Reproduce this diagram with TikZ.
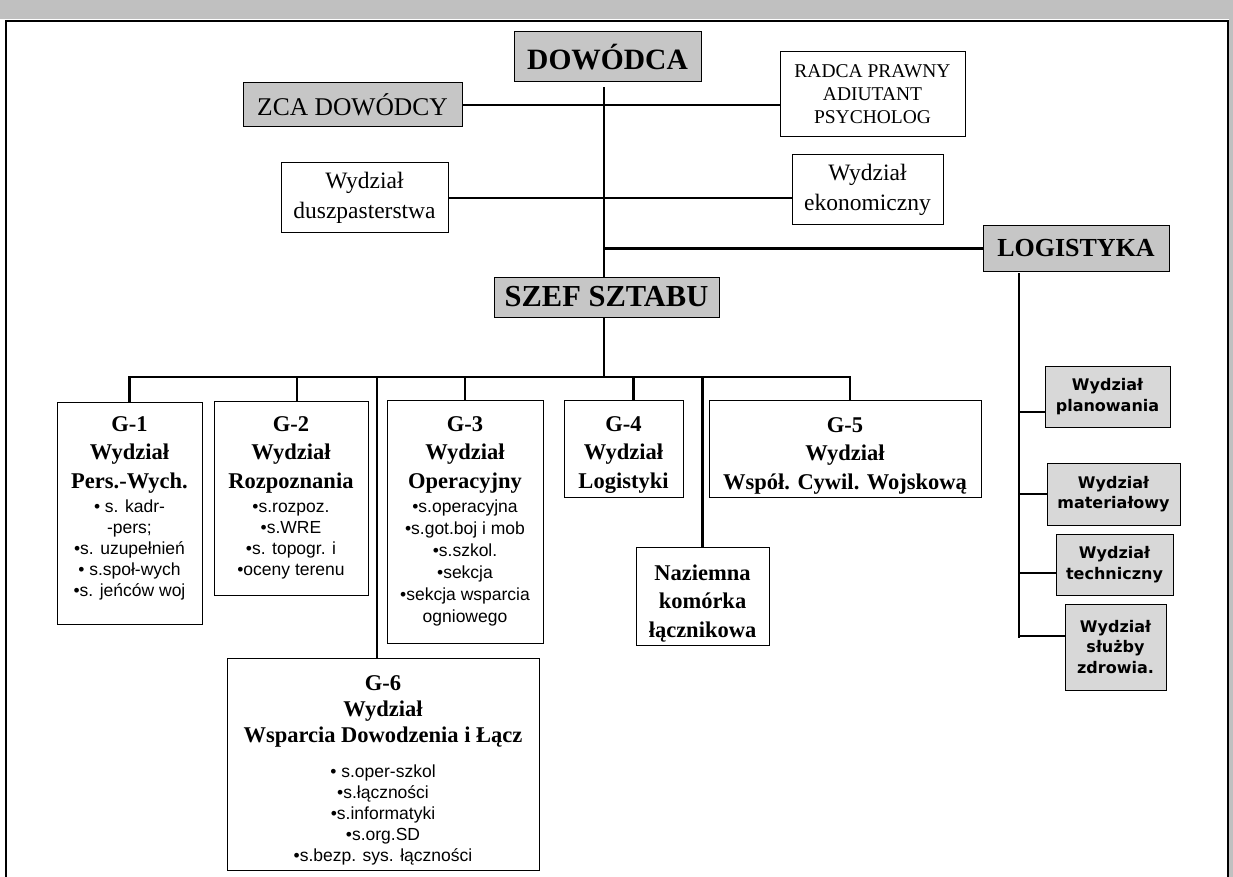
\documentclass[tikz,border=0pt]{standalone}
\usepackage{fontspec}
\setmainfont{Liberation Serif}
\setsansfont{Liberation Sans}
\newfontfamily\dvsfam{DejaVu Sans}
\definecolor{hdgray}{RGB}{198,198,198}
\definecolor{subgray}{RGB}{216,216,216}
\definecolor{bandgray}{RGB}{192,192,192}
\newcommand\gHead{\fontsize{22.5}{28.5}\selectfont\bfseries}
\newcommand\gList{\sffamily\fontsize{17.5}{21}\selectfont}
\tikzset{
  box/.style={draw=black, line width=1pt, inner sep=0pt, align=center},
  gbox/.style={draw=black, line width=1pt, inner sep=0pt},
  hd/.style={box, fill=hdgray},
  sub/.style={box, fill=subgray, font=\dvsfam\bfseries\fontsize{16}{20.5}\selectfont},
  conn/.style={line width=2.5pt},
}
\begin{document}
\begin{tikzpicture}[x=1pt,y=-1pt]
\useasboundingbox (0,0) rectangle (1233,877);
% background band and frame
\fill[bandgray] (0,0) rectangle (1233,19);
\fill[bandgray] (1229,0) rectangle (1233,877);
\draw[line width=2pt] (6,877) -- (6,21) -- (1228,21) -- (1228,877);

% top level
\node[hd, minimum width=187pt, minimum height=50pt, font=\bfseries\fontsize{29.5}{32}\selectfont] (dow) at (607.5,57) {DOWÓDCA};
\node[hd, minimum width=219pt, minimum height=44pt, font=\fontsize{25.5}{28}\selectfont] (zca) at (352.5,105) {ZCA DOWÓDCY};
\node[box, minimum width=185pt, minimum height=85pt, font=\fontsize{19.5}{23}\selectfont] (radca) at (872.5,94.5) {RADCA PRAWNY\\ADIUTANT\\PSYCHOLOG};
\node[box, minimum width=167pt, minimum height=70pt, font=\fontsize{23.5}{29.5}\selectfont] (dusz) at (364.5,198) {Wydział\\duszpasterstwa};
\node[box, minimum width=151pt, minimum height=70pt, font=\fontsize{23.5}{29.5}\selectfont] (ekon) at (867.5,190) {Wydział\\ekonomiczny};
\node[hd, minimum width=186pt, minimum height=45pt, font=\bfseries\fontsize{26}{30}\selectfont] (logi) at (1076,248.5) {LOGISTYKA};
\node[hd, minimum width=225pt, minimum height=40pt, font=\bfseries\fontsize{30.5}{33}\selectfont] (szef) at (606.5,297) {SZEF SZTABU};

% G boxes
\node[gbox] (g1) at (129.5,513) {\begin{minipage}[c][222pt][t]{145pt}\centering
{\gHead\rule{0pt}{29pt}G-1\\Wydział\\Pers.-Wych.\par}\vspace{3pt}
{\gList • s. kadr-\\-pers;\\•s. uzupełnień\\• s.społ-wych\\•s. jeńców woj\par}
\end{minipage}};
\node[gbox] (g2) at (291,498) {\begin{minipage}[c][194pt][t]{154pt}\centering
{\gHead\rule{0pt}{30pt}G-2\\Wydział\\Rozpoznania\par}\vspace{3pt}
{\gList •s.rozpoz.\\•s.WRE\\•s. topogr. i\\•oceny terenu\par}
\end{minipage}};
\node[gbox] (g3) at (465,521.5) {\begin{minipage}[c][243pt][t]{156pt}\centering
{\gHead\rule{0pt}{31pt}G-3\\Wydział\\Operacyjny\par}\vspace{2pt}
{\sffamily\fontsize{17.5}{22}\selectfont •s.operacyjna\\•s.got.boj i mob\\•s.szkol.\\•sekcja\\•sekcja wsparcia\\ogniowego\par}
\end{minipage}};
\node[gbox] (g4) at (623.5,448.5) {\begin{minipage}[c][97pt][t]{119pt}\centering
{\gHead\rule{0pt}{31pt}G-4\\Wydział\\Logistyki\par}
\end{minipage}};
\node[gbox] (g5) at (845,448.5) {\begin{minipage}[c][97pt][t]{272pt}\centering
{\gHead\rule{0pt}{32pt}G-5\\Wydział\\Współ. Cywil. Wojskową\par}
\end{minipage}};
\node[gbox] (naz) at (702.5,596) {\begin{minipage}[c][98pt][t]{133pt}\centering
{\gHead\rule{0pt}{33pt}Naziemna\\komórka\\łącznikowa\par}
\end{minipage}};
\node[gbox] (g6) at (383,764) {\begin{minipage}[c][212pt][t]{312pt}\centering
{\fontsize{22.5}{26}\selectfont\bfseries\rule{0pt}{32pt}G-6\\Wydział\\Wsparcia Dowodzenia i Łącz\par}\vspace{14pt}
{\gList • s.oper-szkol\\•s.łączności\\•s.informatyki\\•s.org.SD\\•s.bezp. sys. łączności\par}
\end{minipage}};

% logistyka sub-boxes
\node[sub, minimum width=125pt, minimum height=61pt] (pl) at (1107.5,396.5) {Wydział\\planowania};
\node[sub, minimum width=133pt, minimum height=62pt] (mat) at (1113.5,494) {Wydział\\materiałowy};
\node[sub, minimum width=117pt, minimum height=61pt] (tech) at (1114.5,564.5) {Wydział\\techniczny};
\node[sub, minimum width=101pt, minimum height=86pt] (zdr) at (1115.5,647) {Wydział\\służby\\zdrowia.};

% connectors
\coordinate (t0) at (604,87);
\coordinate (bus) at (604,377);
\coordinate (busL) at (128,377);
\coordinate (busR) at (851,377);
\draw[conn] (t0) -- (t0 |- szef.north);
\draw[conn] (t0 |- szef.south) -- (bus);
\draw[conn] (zca.east) -- (zca.east -| radca.west);
\draw[conn] (dusz.east) -- (dusz.east -| ekon.west);
\draw[conn] (t0 |- logi.west) -- (logi.west);
\draw[conn] (busL) -- (busR);
\draw[conn] (g1.north) -- (g1.north |- bus);
\draw[conn] ([xshift=6pt]g2.north) -- ([xshift=6pt]g2.north |- bus);
\draw[conn] (g3.north) -- (g3.north |- bus);
\draw[conn] ([xshift=10pt]g4.north) -- ([xshift=10pt]g4.north |- bus);
\draw[conn] ([xshift=5pt]g5.north) -- ([xshift=5pt]g5.north |- bus);
\draw[conn] ([xshift=-6pt]g6.north) -- ([xshift=-6pt]g6.north |- bus);
\draw[conn] (naz.north) -- (naz.north |- bus);

\coordinate (lv0) at (1019,273);
\coordinate (lv1) at (1019,638);
\draw[conn] (lv0) -- (lv1);
\draw[conn] ([yshift=-15.5pt]pl.west) -- ([yshift=-15.5pt]pl.west -| lv0);
\draw[conn] (mat.west) -- (mat.west -| lv0);
\draw[conn] ([yshift=-8.5pt]tech.west) -- ([yshift=-8.5pt]tech.west -| lv0);
\draw[conn] ([yshift=11pt]zdr.west) -- ([yshift=11pt]zdr.west -| lv0);
\end{tikzpicture}
\end{document}
